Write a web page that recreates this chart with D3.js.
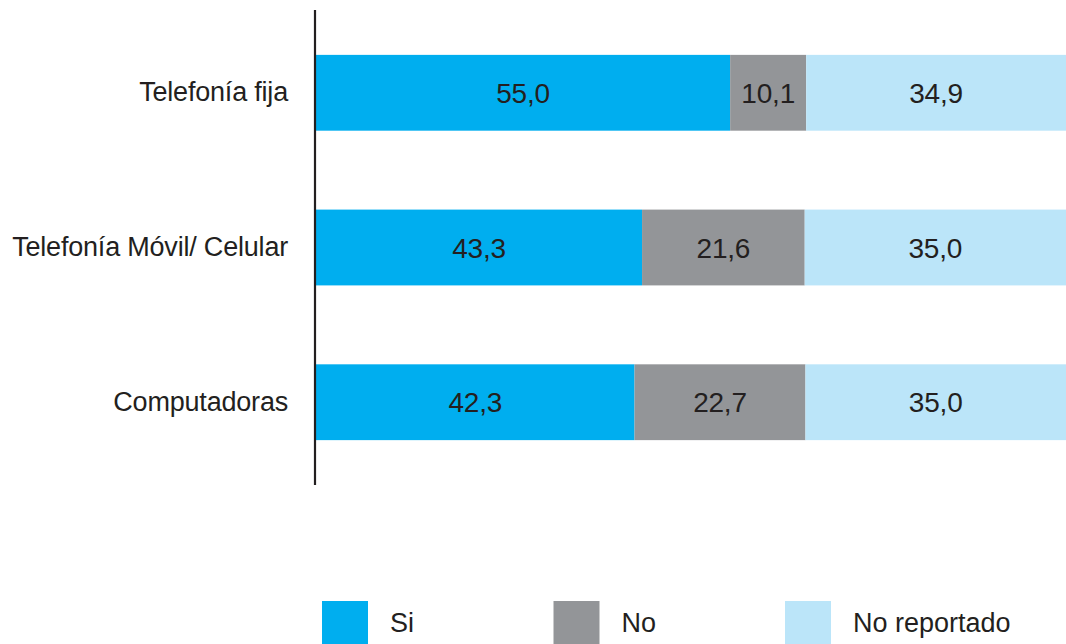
<!DOCTYPE html>
<html>
<head>
<meta charset="utf-8">
<script src="https://cdn.jsdelivr.net/npm/d3@7"></script>
<style>
  body { margin: 0; background: #fff; overflow: hidden; }
  text { font-family: "Liberation Sans", Arial, sans-serif; fill: #231f20; }
</style>
</head>
<body>
<svg id="chart"></svg>
<script>
const CATEGORIES = ["Telefonía fija", "Telefonía Móvil/ Celular", "Computadoras"];
const SERIES = ["Si", "No", "No reportado"];
const SI = [55.0, 43.3, 42.3];
const NO = [10.1, 21.6, 22.7];
const NO_REPORTADO = [34.9, 35.0, 35.0];
const COLORS = ["#00aeef", "#939598", "#bbe5f9"];

const WIDTH = 1066;
const HEIGHT = 644;

const svg = d3.select("#chart")
    .attr("width", WIDTH)
    .attr("height", HEIGHT);

const rows = CATEGORIES.map(function(c, i) {
    return { cat: c, "Si": SI[i], "No": NO[i], "No reportado": NO_REPORTADO[i] };
});

const stacked = d3.stack().keys(SERIES)(rows);

const x = d3.scaleLinear().domain([0, 100]).range([316, 1069]);
const y = d3.scaleBand().domain(CATEGORIES).range([10, 485])
    .paddingInner(0.51).paddingOuter(0.29);
const color = d3.scaleOrdinal().domain(SERIES).range(COLORS);

// bars
const layers = svg.selectAll(".layer")
    .data(stacked)
    .enter().append("g")
    .attr("class", "layer")
    .attr("fill", function(d) { return color(d.key); });

layers.selectAll("rect")
    .data(function(d) { return d; })
    .enter().append("rect")
    .attr("x", function(d) { return x(d[0]); })
    .attr("y", function(d) { return y(d.data.cat); })
    .attr("width", function(d) { return x(d[1]) - x(d[0]); })
    .attr("height", y.bandwidth());

// value labels (centered in visible part of segment)
layers.selectAll("text")
    .data(function(d) { return d; })
    .enter().append("text")
    .attr("x", function(d) { return (x(d[0]) + Math.min(x(d[1]), WIDTH)) / 2; })
    .attr("y", function(d) { return y(d.data.cat) + y.bandwidth() / 2; })
    .attr("dy", "0.36em")
    .attr("text-anchor", "middle")
    .style("font-size", "28px")
    .style("letter-spacing", "-0.2px")
    .text(function(d) { return d3.format(".1f")(d[1] - d[0]).replace(".", ","); });

// y axis: line + category labels only
const yAxis = d3.axisLeft(y).tickSize(0).tickPadding(27);
const axisG = svg.append("g")
    .attr("transform", "translate(315,0)")
    .call(yAxis);
axisG.select(".domain")
    .attr("d", "M0,10V485")
    .attr("stroke", "#231f20")
    .attr("stroke-width", 2.2);
axisG.selectAll("text")
    .style("font-size", "27px")
    .style("letter-spacing", "-0.2px")
    .attr("fill", "#231f20")
    .attr("font-family", null);

// legend
const legend = svg.selectAll(".legend")
    .data(SERIES)
    .enter().append("g")
    .attr("class", "legend")
    .attr("transform", function(d, i) { return "translate(" + (322 + i * 231.5) + ",601)"; });

legend.append("rect")
    .attr("width", 46)
    .attr("height", 46)
    .attr("fill", color);

legend.append("text")
    .attr("x", 68)
    .attr("y", 31)
    .style("font-size", "27px")
    .text(function(d) { return d; });
</script>
</body>
</html>
